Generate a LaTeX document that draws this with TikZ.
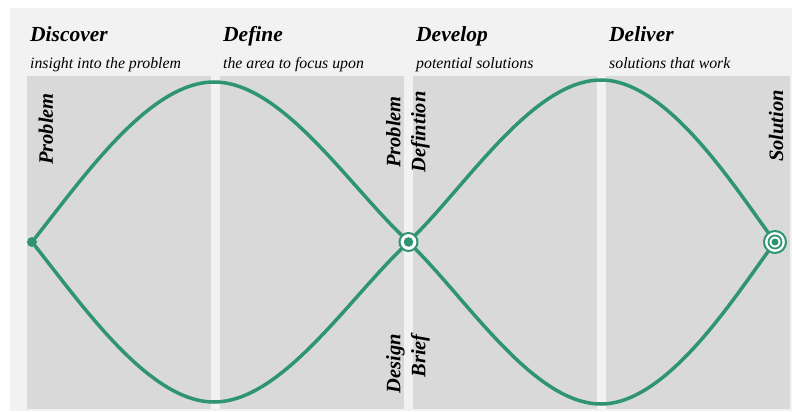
\documentclass[tikz,border=0pt]{standalone}
\usepackage{fontspec}
\setmainfont{Liberation Serif}
\definecolor{dgreen}{RGB}{47,148,113}
\definecolor{panelgray}{RGB}{217,217,217}
\definecolor{bggray}{RGB}{242,242,242}
\begin{document}
\begin{tikzpicture}[x=1pt,y=-1pt,
  phase/.style={anchor=base west, inner sep=0, font=\fontsize{21.5}{24}\selectfont\bfseries\itshape},
  sub/.style={anchor=base west, inner sep=0, font=\fontsize{15.8}{18}\selectfont\itshape},
  vlabel/.style={rotate=90, inner sep=0, font=\fontsize{20.5}{25}\selectfont\bfseries\itshape},
  curve/.style={draw=dgreen, line width=3.5pt, line cap=round},
  dot/.style={circle, fill=dgreen, inner sep=0, minimum size=10pt},
  ring/.style={circle, draw=dgreen, line width=2pt, fill=white, inner sep=0},
]
\useasboundingbox (0,0) rectangle (792,412);
% background and the four phase panels
\fill[bggray] (10,8) rectangle (792,411);
\foreach \x in {27,220,413,606}
  \fill[panelgray] (\x,76) rectangle ++(184,333);

% phase headings
\node[phase] (h1) at (30,42) {Discover};
\node[phase] (h2) at (223,42) {Define};
\node[phase] (h3) at (416,42) {Develop};
\node[phase] (h4) at (609,42) {Deliver};
\node[sub] (s1) at (30,68) {insight into the problem};
\node[sub] (s2) at (223,68) {the area to focus upon};
\node[sub] (s3) at (416,68) {potential solutions};
\node[sub] (s4) at (609,68) {solutions that work};

% milestones
\node[dot] (start) at (32,242) {};
\node[ring, minimum size=18pt] (mid) at (408.5,242) {};
\fill[dgreen] (mid) circle (4.8);
\node[ring, minimum size=22pt] (finish) at (775,242) {};
\draw[dgreen, line width=1.8pt] (finish) circle (6.5);
\fill[dgreen] (finish) circle (3.5);

% extremes of the two diamonds
\coordinate (top1) at (214,82);
\coordinate (bot1) at (214,402);
\coordinate (top2) at (601,80);
\coordinate (bot2) at (601,404);

% first diamond
\draw[curve] (start) .. controls (85,175) and (150,82) .. (top1);
\draw[curve] (top1) .. controls (280,82) and (345,180) .. (mid);
\draw[curve] (start) .. controls (85,309) and (150,402) .. (bot1);
\draw[curve] (bot1) .. controls (280,402) and (345,304) .. (mid);
% second diamond
\draw[curve] (mid) .. controls (470,180) and (535,80) .. (top2);
\draw[curve] (top2) .. controls (665,80) and (730,180) .. (finish);
\draw[curve] (mid) .. controls (470,304) and (535,404) .. (bot2);
\draw[curve] (bot2) .. controls (665,404) and (730,304) .. (finish);

% vertical labels
\node[vlabel, anchor=east] (lprob) at (46,93) {Problem};
\node[vlabel, align=center] (ldef) at (408,132) {Problem\\Defintion};
\node[vlabel, align=right, anchor=east] (lbrief) at (408,334) {Design\\Brief};
\node[vlabel, anchor=east] (lsol) at (776,90) {Solution};
\end{tikzpicture}
\end{document}
